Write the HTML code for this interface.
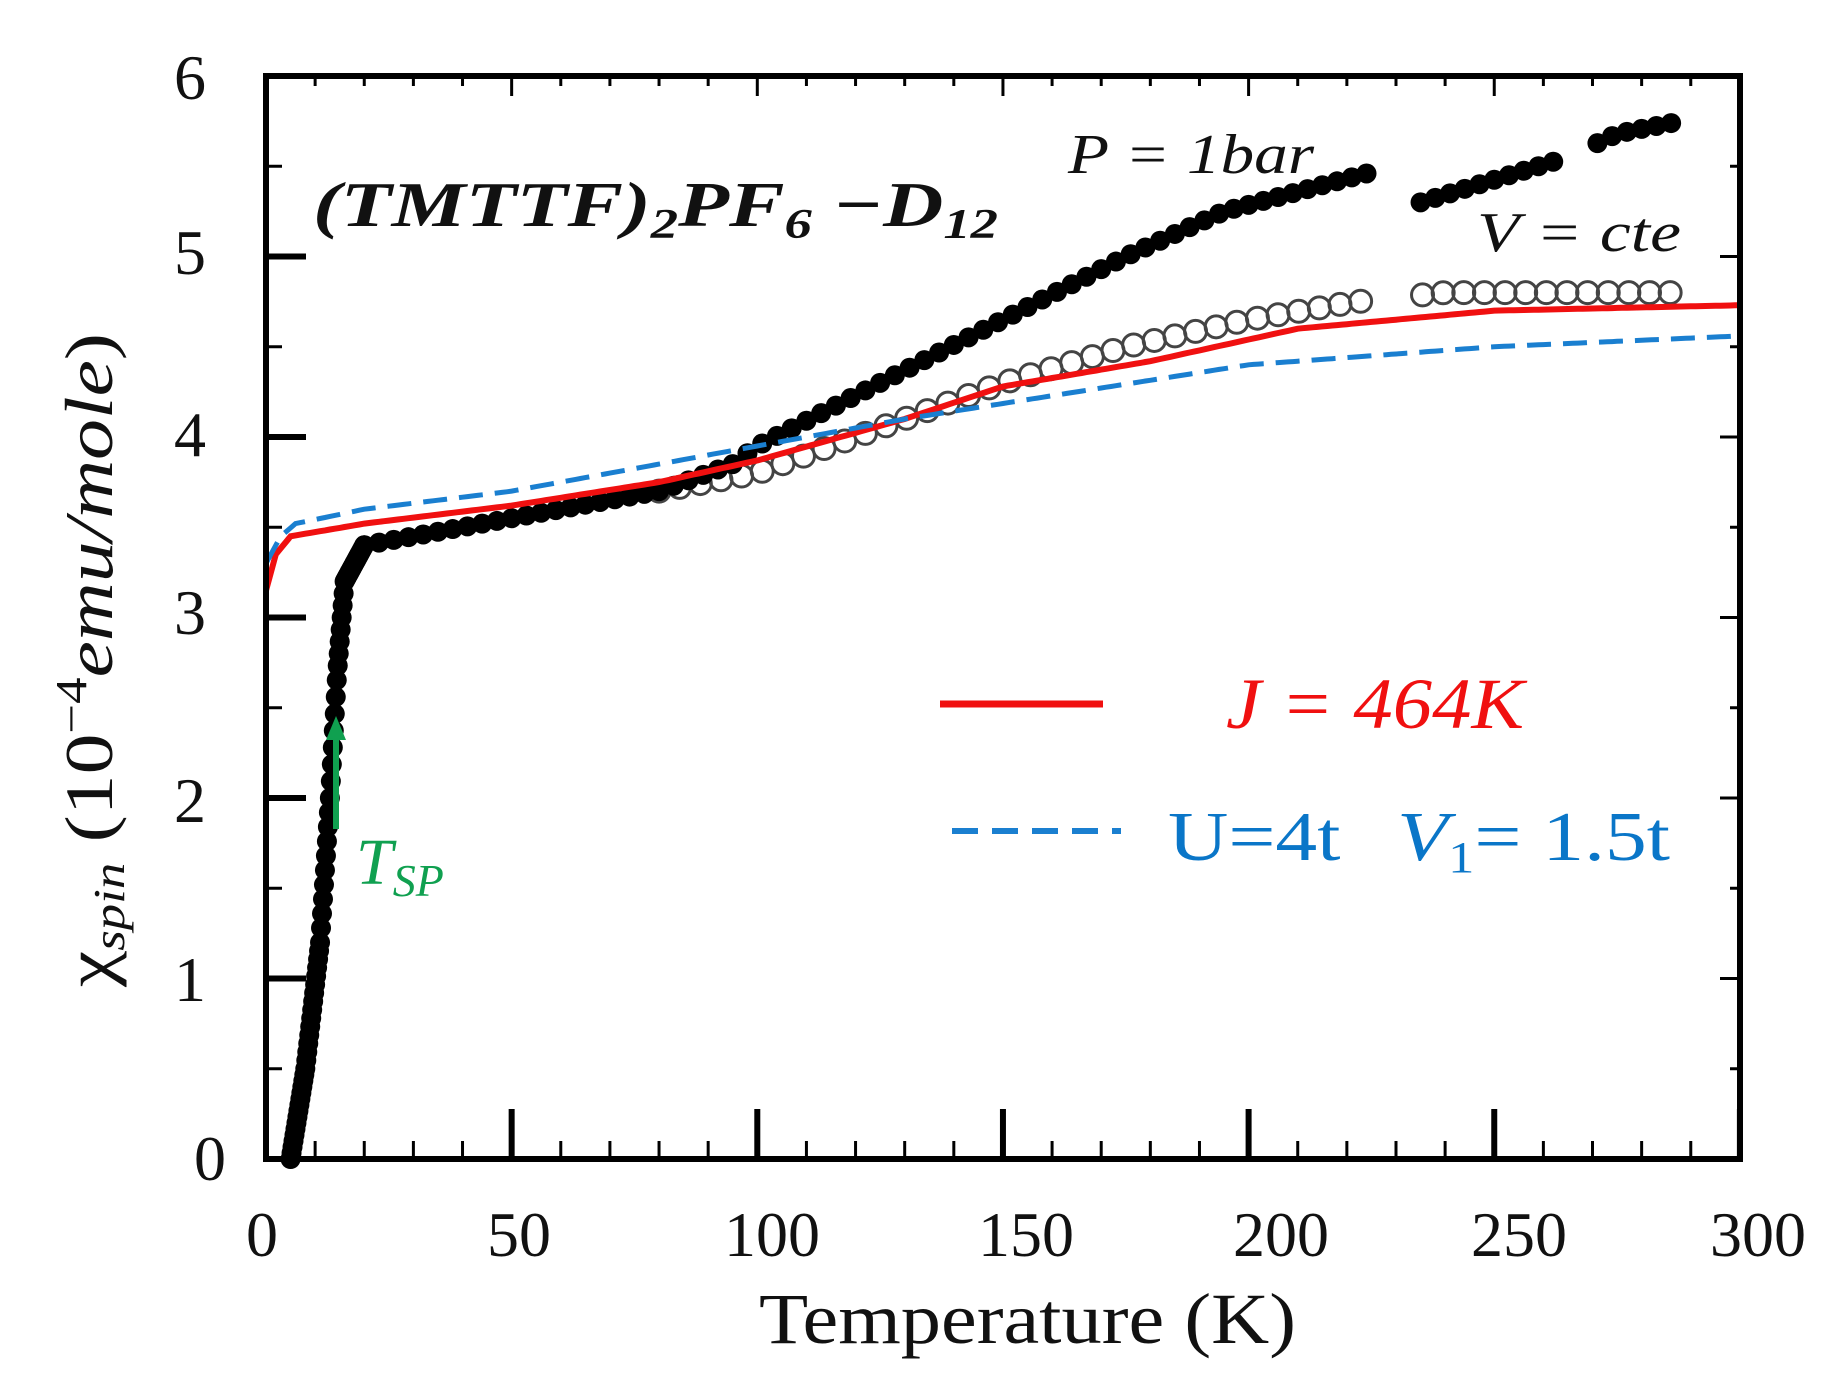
<!DOCTYPE html>
<html><head><meta charset="utf-8"><style>
html,body{margin:0;padding:0;background:#fff;}
svg{display:block;}
text{font-family:"Liberation Serif",serif;}
</style></head><body>
<svg id="s" width="1831" height="1380" viewBox="0 0 1831 1380" xmlns="http://www.w3.org/2000/svg">
<rect width="1831" height="1380" fill="#fff"/>
<g id="ticks" stroke="#000"></g>
<g id="data"></g>
<rect x="266" y="76" width="1474" height="1083" fill="none" stroke="#000" stroke-width="6"/>
<g font-size="64" fill="#111" text-anchor="middle">
<text x="262" y="1256">0</text><text x="519" y="1256">50</text><text x="772" y="1256">100</text>
<text x="1026" y="1256">150</text><text x="1281" y="1256">200</text><text x="1519" y="1256">250</text><text x="1758" y="1256">300</text>
</g>
<g font-size="64" fill="#111" text-anchor="end">
<text x="226" y="1180">0</text><text x="206" y="1001">1</text><text x="206" y="822">2</text><text x="206" y="634">3</text>
<text x="206" y="456">4</text><text x="206" y="274">5</text><text x="206" y="99">6</text>
</g>
<text x="759" y="1343" font-size="72" fill="#111" textLength="537" lengthAdjust="spacingAndGlyphs">Temperature (K)</text>
<text transform="translate(112,987) rotate(-90)" font-size="68" fill="#111" textLength="654" lengthAdjust="spacingAndGlyphs">χ<tspan font-style="italic" font-size="44" dy="12">spin</tspan><tspan dy="-12"> (10</tspan><tspan font-size="44" dy="-26">−4</tspan><tspan dy="26" font-style="italic">emu/mole</tspan>)</text>
<text x="313" y="226" font-size="64" font-weight="bold" font-style="italic" fill="#111" textLength="685" lengthAdjust="spacingAndGlyphs">(TMTTF)<tspan font-size="42" dy="12">2</tspan><tspan dy="-12">PF</tspan><tspan font-size="42" dy="12">6</tspan><tspan dy="-12"> −D</tspan><tspan font-size="42" dy="12">12</tspan></text>
<text x="1068" y="173" font-size="56" font-style="italic" fill="#111" textLength="246" lengthAdjust="spacingAndGlyphs">P = 1bar</text>
<text x="1477" y="251" font-size="56" font-style="italic" fill="#111" textLength="204" lengthAdjust="spacingAndGlyphs">V = cte</text>
<line x1="940" y1="704" x2="1103" y2="704" stroke="#f01010" stroke-width="7"/>
<text x="1226" y="728" font-size="72" font-style="italic" fill="#f01010" textLength="298" lengthAdjust="spacingAndGlyphs">J = 464K</text>
<line x1="952" y1="831" x2="1121" y2="831" stroke="#1a7fd0" stroke-width="6" stroke-dasharray="26,14"/>
<text x="1168" y="860" font-size="70" fill="#0a76c8" textLength="502" lengthAdjust="spacingAndGlyphs">U=4t <tspan font-style="italic" dx="30">V</tspan><tspan font-size="44" dy="12">1</tspan><tspan dy="-12">= 1.5t</tspan></text>
<line x1="336" y1="829" x2="336" y2="735" stroke="#10a050" stroke-width="6"/>
<polygon points="336,716 326,740 346,740" fill="#10a050"/>
<text x="356" y="884" font-size="66" font-style="italic" fill="#10a050">T<tspan font-size="46" dy="12">SP</tspan></text>
</svg>
<script>
var X=t=>266+t*4.913, Y=v=>1159-180.5*v, NS="http://www.w3.org/2000/svg";
var d=document.getElementById("data"), tk=document.getElementById("ticks");
function el(p,n,a){var e=document.createElementNS(NS,n);for(var k in a)e.setAttribute(k,a[k]);p.appendChild(e);return e;}
for(var t=0;t<=300;t+=10){var maj=t%50==0;el(tk,"line",{x1:X(t),x2:X(t),y1:1159,y2:1159-(maj?50:18),"stroke-width":maj?6:3});el(tk,"line",{x1:X(t),x2:X(t),y1:76,y2:76+(maj?20:10),"stroke-width":3});}
for(var v=0;v<=6;v+=0.5){var maj=v%1==0;el(tk,"line",{x1:266,x2:266+(maj?40:16),y1:Y(v),y2:Y(v),"stroke-width":maj?6:3});el(tk,"line",{x1:1740,x2:1740-(maj?20:10),y1:Y(v),y2:Y(v),"stroke-width":3});}
function interp(pts,t){for(var i=0;i<pts.length-1;i++){if(t>=pts[i][0]&&t<=pts[i+1][0]){var f=(t-pts[i][0])/(pts[i+1][0]-pts[i][0]);return pts[i][1]+f*(pts[i+1][1]-pts[i][1]);}}return pts[pts.length-1][1];}
function path(pts,attrs){var s="";for(var t=pts[0][0];t<=pts[pts.length-1][0];t+=1){s+=(s?"L":"M")+X(t).toFixed(1)+","+Y(interp(pts,t)).toFixed(1);}attrs.d=s;attrs.fill="none";el(d,"path",attrs);}
var oc=[[80,3.7],[100,3.8],[125,4.05],[150,4.3],[175,4.5],[200,4.65],[222,4.75],[240,4.8],[290,4.8]];
for(var t=80;t<=288;t+=4.2){if(t>225&&t<235)continue;el(d,"circle",{cx:X(t),cy:Y(interp(oc,t)),r:11,fill:"none",stroke:"#444","stroke-width":3});}
var fd=[[5,0],[8,0.5],[11,1.2],[13,2],[14.5,2.7],[16,3.2],[20,3.4],[40,3.5],[60,3.6],[80,3.7],[95,3.85],[100,3.95],[125,4.3],[150,4.65],[175,5.0],[195,5.25],[224,5.46]];
var tt=[];for(var t=5;t<20;t+=0.2)tt.push(t);for(var t=20;t<=224;t+=3)tt.push(t);
tt.forEach(function(t){el(d,"circle",{cx:X(t),cy:Y(interp(fd,t)),r:10,fill:"#000"});});
var fd2=[[235,5.3],[265,5.55],[275,5.68],[288,5.75]];
for(var t=235;t<=288;t+=3){if(t>262&&t<270)continue;el(d,"circle",{cx:X(t),cy:Y(interp(fd2,t)),r:10,fill:"#000"});}
path([[0,3.15],[2,3.35],[5,3.45],[20,3.52],[50,3.62],[80,3.75],[100,3.87],[130,4.1],[150,4.28],[180,4.42],[210,4.6],[250,4.7],[300,4.73]],{stroke:"#f01010","stroke-width":6});
path([[0,3.3],[3,3.45],[6,3.52],[20,3.6],[50,3.7],[80,3.85],[100,3.95],[130,4.1],[165,4.25],[200,4.4],[250,4.5],[300,4.56]],{stroke:"#1a7fd0","stroke-width":5,"stroke-dasharray":"24,12"});
</script>
</body></html>
